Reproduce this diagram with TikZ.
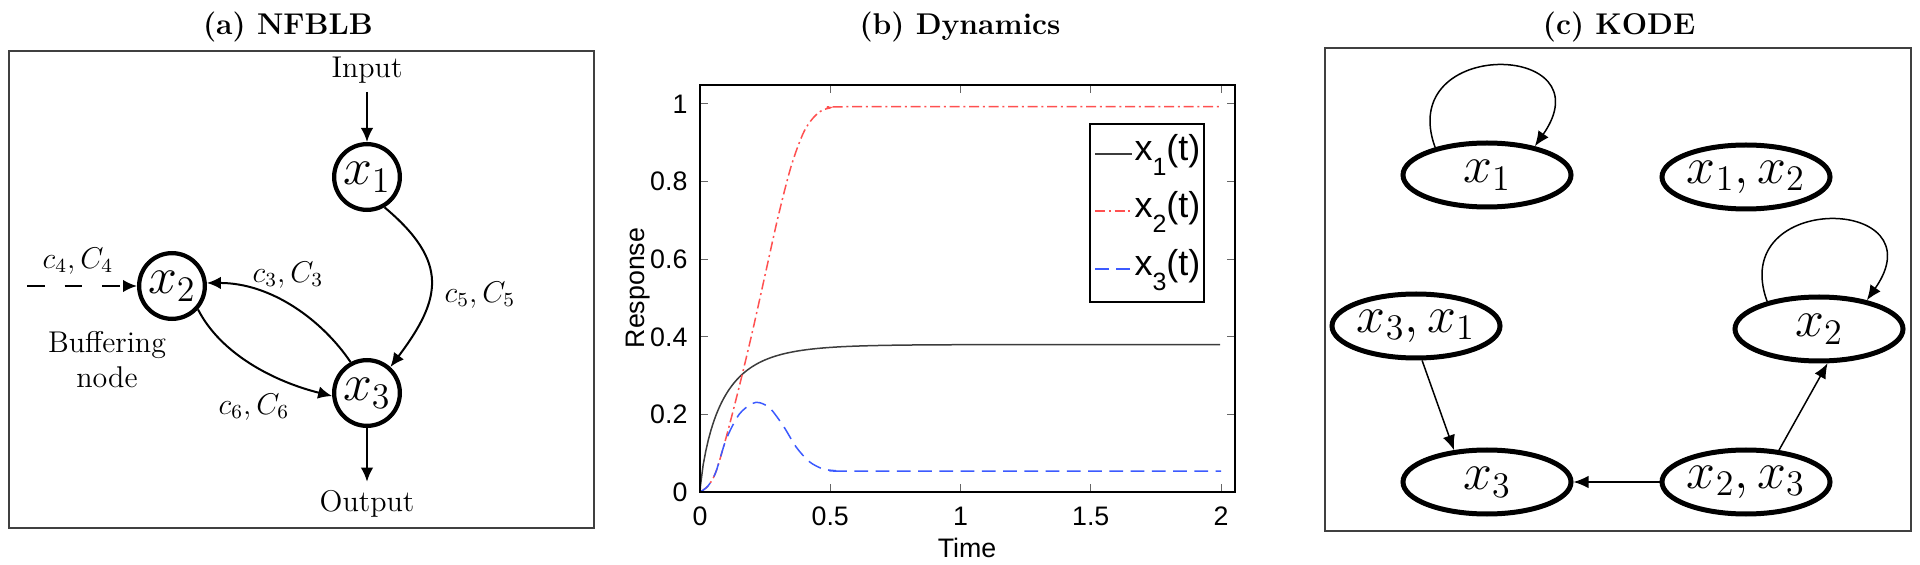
\documentclass[tikz,border=0pt]{standalone}
\usepackage{fontspec}
\newfontfamily\plotfont{Liberation Sans}
\usetikzlibrary{arrows.meta,shapes.geometric}
\tikzstyle{st}=[shape=circle, draw, line width=1.7pt, minimum size=26.3pt, inner sep=0, font=\huge]
\tikzstyle{ks}=[shape=ellipse, draw, line width=2pt, minimum width=67.2pt, minimum height=25.6pt, inner xsep=-9pt, inner ysep=0, font=\huge]
\tikzstyle{ed}=[line width=0.8pt, -{Latex[length=5.6pt,width=5pt]}]
\tikzstyle{ked}=[line width=0.6pt, -{Latex[length=6pt,width=5pt]}]
\tikzstyle{lbl}=[font=\large]
\tikzstyle{ttl}=[font=\large\bfseries]
\tikzstyle{tk}=[font=\plotfont\fontsize{10.7}{13}\selectfont]
\tikzstyle{lg}=[font=\plotfont\Large, anchor=base west, inner sep=0]
\tikzstyle{tick}=[black!60, line width=0.4pt]
\definecolor{curvered}{RGB}{255,80,80}
\definecolor{curveblue}{RGB}{60,90,255}
\definecolor{curvegray}{RGB}{60,60,60}

\begin{document}
\begin{tikzpicture}[x=0.4pt, y=0.4pt]
\useasboundingbox (0,0) rectangle (1920,-565);
%\draw[help lines,step=50] (0,0) grid (1920,-565);
% (a) NFBLB
\node at (288,-27)[ttl](ta){(a) NFBLB};
\draw[black!75, line width=0.8pt] (9,-51) rectangle (594,-528);
\node at (367,-177)[st](x1){$x_1$};
\node at (172,-286)[st](x2){$x_2$};
\node at (367,-393)[st](x3){$x_3$};
\node at (367,-70)[lbl](in){Input};
\node at (367,-504)[lbl](out){Output};
\node at (107,-360)[lbl, align=center](buf){Buffering\\node};
\coordinate (src) at (27,-286);
\draw[ed] (in) -- (x1);
\draw[ed] (x3) -- (out);
\draw[ed, dash pattern=on 7pt off 8pt] (src) -- (x2);
\draw[ed] (x1.-60) .. controls +(-40:85) and +(53:85) .. (x3.48);
\draw[ed] (x3.118) .. controls +(124:50) and +(0:65) .. (x2.5);
\draw[ed] (x2.-42) .. controls +(-63:50) and +(166:60) .. (x3.185);
\node at (78,-261)[lbl](l4){$c_4,C_4$};
\node at (288,-275)[lbl](l3){$c_3,C_3$};
\node at (480,-295)[lbl](l5){$c_5,C_5$};
\node at (254,-407)[lbl](l6){$c_6,C_6$};
% (b) Dynamics
\node at (960,-27)[ttl](tb){(b) Dynamics};
\begin{scope}[shift={(280pt,-196.8pt)}, x=104.2pt, y=155.2pt]
\foreach \t in {0.5,1,1.5,2} {
  \draw[tick] (\t,0) -- +(0,3.2pt);
  \draw[tick] (\t,1.049) -- +(0,-3.2pt);
}
\foreach \v in {0.2,0.4,0.6,0.8,1} {
  \draw[tick] (0,\v) -- +(3.2pt,0);
  \draw[tick] (2.054,\v) -- +(-3.2pt,0);
}
\foreach \t in {0,0.5,1,1.5,2}
  \node[tk] at (\t,0) [yshift=-9.6pt]{\t};
\foreach \v in {0,0.2,0.4,0.6,0.8,1}
  \node[tk, anchor=east] at (0,\v) [xshift=-1.5pt]{\v};
\draw[curvegray, line width=0.6pt] (0,0) -- plot[domain=0.002:2, samples=200] (\x, {0.38*(1-exp(-((\x/0.09)^0.8)))});
\draw[curvered, line width=0.6pt, dash pattern=on 4pt off 1.5pt on 0.8pt off 1.5pt] plot[smooth] coordinates {(0,0) (0.03,0.015) (0.06,0.05) (0.1,0.14) (0.15,0.27) (0.2,0.41) (0.25,0.56) (0.3,0.71) (0.35,0.84) (0.4,0.93) (0.45,0.975) (0.5,0.99) (0.6,0.993) (2,0.993)};
\draw[curveblue, line width=0.6pt, dash pattern=on 5.5pt off 3pt] plot[smooth] coordinates {(0,0) (0.03,0.015) (0.06,0.05) (0.1,0.135) (0.15,0.2) (0.2,0.228) (0.23,0.23) (0.27,0.215) (0.32,0.17) (0.37,0.115) (0.42,0.078) (0.47,0.06) (0.52,0.055) (0.6,0.054) (2,0.054)};
\draw[line width=0.9pt] (0,0) rectangle (2.054,1.049);
\end{scope}
\node at (638,-288)[tk, rotate=90](ylab){Response};
\node at (967,-548)[tk](xlab){Time};
% legend
\draw[fill=white, line width=0.9pt] (1090,-124) rectangle (1204,-302);
\draw[curvegray, line width=0.6pt] (1095,-154) -- (1132,-154);
\draw[curvered, line width=0.6pt, dash pattern=on 4pt off 1.5pt on 0.8pt off 1.5pt] (1095,-211) -- (1132,-211);
\draw[curveblue, line width=0.6pt, dash pattern=on 5.5pt off 3pt] (1095,-269) -- (1132,-269);
\node at (1134,-161)[lg](lg1){x\raisebox{-6pt}{\normalsize 1}(t)};
\node at (1134,-218)[lg](lg2){x\raisebox{-6pt}{\normalsize 2}(t)};
\node at (1134,-276)[lg](lg3){x\raisebox{-6pt}{\normalsize 3}(t)};
% (c) KODE
\node at (1619,-27)[ttl](tc){(c) KODE};
\draw[black!75, line width=0.8pt] (1325,-48) rectangle (1911,-531);
\node at (1487,-175)[ks](k1){$x_1$};
\node at (1746,-177)[ks](k12){$x_1,x_2$};
\node at (1416,-326)[ks](k31){$x_3,x_1$};
\node at (1819,-329)[ks](k2){$x_2$};
\node at (1487,-482)[ks](k3){$x_3$};
\node at (1746,-482)[ks](k23){$x_2,x_3$};
\draw[ked] (k1.152) .. controls +(110:118) and +(55:128) .. (k1.31);
\draw[ked] (k2.152) .. controls +(110:118) and +(55:128) .. (k2.31);
\draw[ked] (k31.-80) -- (k3.136);
\draw[ked] (k23.44) -- (k2.-76);
\draw[ked] (k23) -- (k3);
\end{tikzpicture}
\end{document}
